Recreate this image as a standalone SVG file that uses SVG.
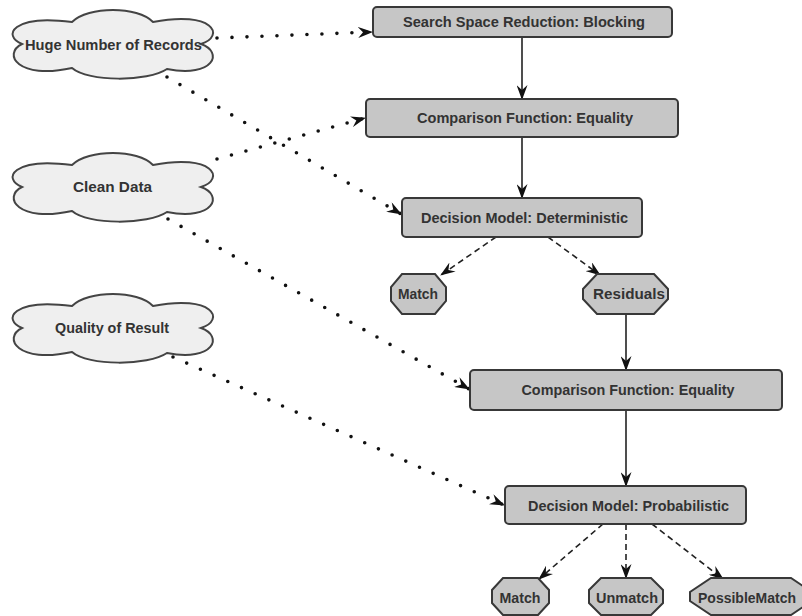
<svg xmlns="http://www.w3.org/2000/svg" width="802" height="616" viewBox="0 0 802 616">
<defs>
<style>
.box{fill:#c6c6c6;stroke:#383838;stroke-width:2}
.cloud{fill:#efefef;stroke:#444;stroke-width:2}
.t{font-family:"Liberation Sans",Arial,sans-serif;font-weight:bold;font-size:15px;fill:#333;text-anchor:middle}
.solid{stroke:#222;stroke-width:1.6;fill:none}
.dash{stroke:#222;stroke-width:1.6;fill:none;stroke-dasharray:6 4}
.dot{stroke:#111;stroke-width:3.6;fill:none;stroke-linecap:round;stroke-dasharray:0 15}
</style>
<marker id="ah" viewBox="0 0 15 11" refX="14" refY="5.5" markerWidth="15" markerHeight="11" markerUnits="userSpaceOnUse" orient="auto">
<path d="M0,0 L15,5.5 L0,11 L5,5.5 z" fill="#111"/>
</marker>
<path id="cl" d="M14,34 C-6,26 4,4 64,12 C80,-4 130,-4 145,12 C205,0 218,26 193,34 C216,42 206,68 159,59 C140,72 80,72 64,58 C10,70 -6,44 14,34 Z"/>
</defs>

<g id="connectors">
<line class="dot" x1="217" y1="38" x2="372" y2="32" marker-end="url(#ah)"/>
<line class="dot" x1="167" y1="77" x2="401" y2="214" marker-end="url(#ah)"/>
<line class="dot" x1="217" y1="159" x2="365" y2="118" marker-end="url(#ah)"/>
<line class="dot" x1="168" y1="219" x2="469" y2="389" marker-end="url(#ah)"/>
<line class="dot" x1="173" y1="357" x2="504" y2="505" marker-end="url(#ah)"/>
<line class="solid" x1="522" y1="37" x2="522" y2="99" marker-end="url(#ah)"/>
<line class="solid" x1="522" y1="137" x2="522" y2="198" marker-end="url(#ah)"/>
<line class="solid" x1="626" y1="314" x2="626" y2="370" marker-end="url(#ah)"/>
<line class="solid" x1="626" y1="410" x2="626" y2="486" marker-end="url(#ah)"/>
<line class="dash" x1="496" y1="237" x2="441" y2="275" marker-end="url(#ah)"/>
<line class="dash" x1="548" y1="237" x2="600" y2="275" marker-end="url(#ah)"/>
<line class="dash" x1="603" y1="524" x2="539" y2="579" marker-end="url(#ah)"/>
<line class="dash" x1="626" y1="524" x2="626" y2="578" marker-end="url(#ah)"/>
<line class="dash" x1="652" y1="524" x2="723" y2="579" marker-end="url(#ah)"/>
</g>

<g id="cloud-huge">
<use href="#cl" class="cloud" transform="translate(8,10)"/>
<text class="t" x="113.5" y="50" textLength="177" lengthAdjust="spacingAndGlyphs">Huge Number of Records</text>
</g>
<g id="cloud-clean">
<use href="#cl" class="cloud" transform="translate(8,153)"/>
<text class="t" x="112.5" y="192" textLength="79" lengthAdjust="spacingAndGlyphs">Clean Data</text>
</g>
<g id="cloud-quality">
<use href="#cl" class="cloud" transform="translate(8,294)"/>
<text class="t" x="112" y="333" textLength="114" lengthAdjust="spacingAndGlyphs">Quality of Result</text>
</g>

<g id="blocking">
<rect class="box" x="373" y="7" width="299" height="30" rx="4"/>
<text class="t" x="524" y="27" textLength="242" lengthAdjust="spacingAndGlyphs">Search Space Reduction: Blocking</text>
</g>
<g id="comparison1">
<rect class="box" x="366" y="99" width="312" height="38" rx="4"/>
<text class="t" x="525" y="123" textLength="216" lengthAdjust="spacingAndGlyphs">Comparison Function: Equality</text>
</g>
<g id="decision-det">
<rect class="box" x="402" y="198" width="240" height="39" rx="4"/>
<text class="t" x="524.5" y="223" textLength="207" lengthAdjust="spacingAndGlyphs">Decision Model: Deterministic</text>
</g>
<g id="match1">
<polygon class="box" points="402,274 435,274 446,287 446,301 435,314 402,314 391,301 391,287"/>
<text class="t" x="418" y="299" textLength="40" lengthAdjust="spacingAndGlyphs">Match</text>
</g>
<g id="residuals">
<polygon class="box" points="597,274 654,274 668,289 668,299 654,314 597,314 583,299 583,289"/>
<text class="t" x="629" y="299" textLength="72" lengthAdjust="spacingAndGlyphs">Residuals</text>
</g>
<g id="comparison2">
<rect class="box" x="470" y="370" width="312" height="40" rx="4"/>
<text class="t" x="628" y="395" textLength="213" lengthAdjust="spacingAndGlyphs">Comparison Function: Equality</text>
</g>
<g id="decision-prob">
<rect class="box" x="505" y="486" width="241" height="38" rx="4"/>
<text class="t" x="628.5" y="511" textLength="201" lengthAdjust="spacingAndGlyphs">Decision Model: Probabilistic</text>
</g>
<g id="match2">
<polygon class="box" points="503,578 538,578 549,590 549,603 538,615 503,615 492,603 492,590"/>
<text class="t" x="520" y="603" textLength="41" lengthAdjust="spacingAndGlyphs">Match</text>
</g>
<g id="unmatch">
<polygon class="box" points="601,578 651,578 663,590 663,603 651,615 601,615 589,603 589,590"/>
<text class="t" x="627" y="603" textLength="62" lengthAdjust="spacingAndGlyphs">Unmatch</text>
</g>
<g id="possiblematch">
<polygon class="box" points="711,578 791,578 812,592 812,601 791,615 711,615 690,601 690,592"/>
<text class="t" x="698" y="603" style="text-anchor:start" textLength="98" lengthAdjust="spacingAndGlyphs">PossibleMatch</text>
</g>
</svg>
